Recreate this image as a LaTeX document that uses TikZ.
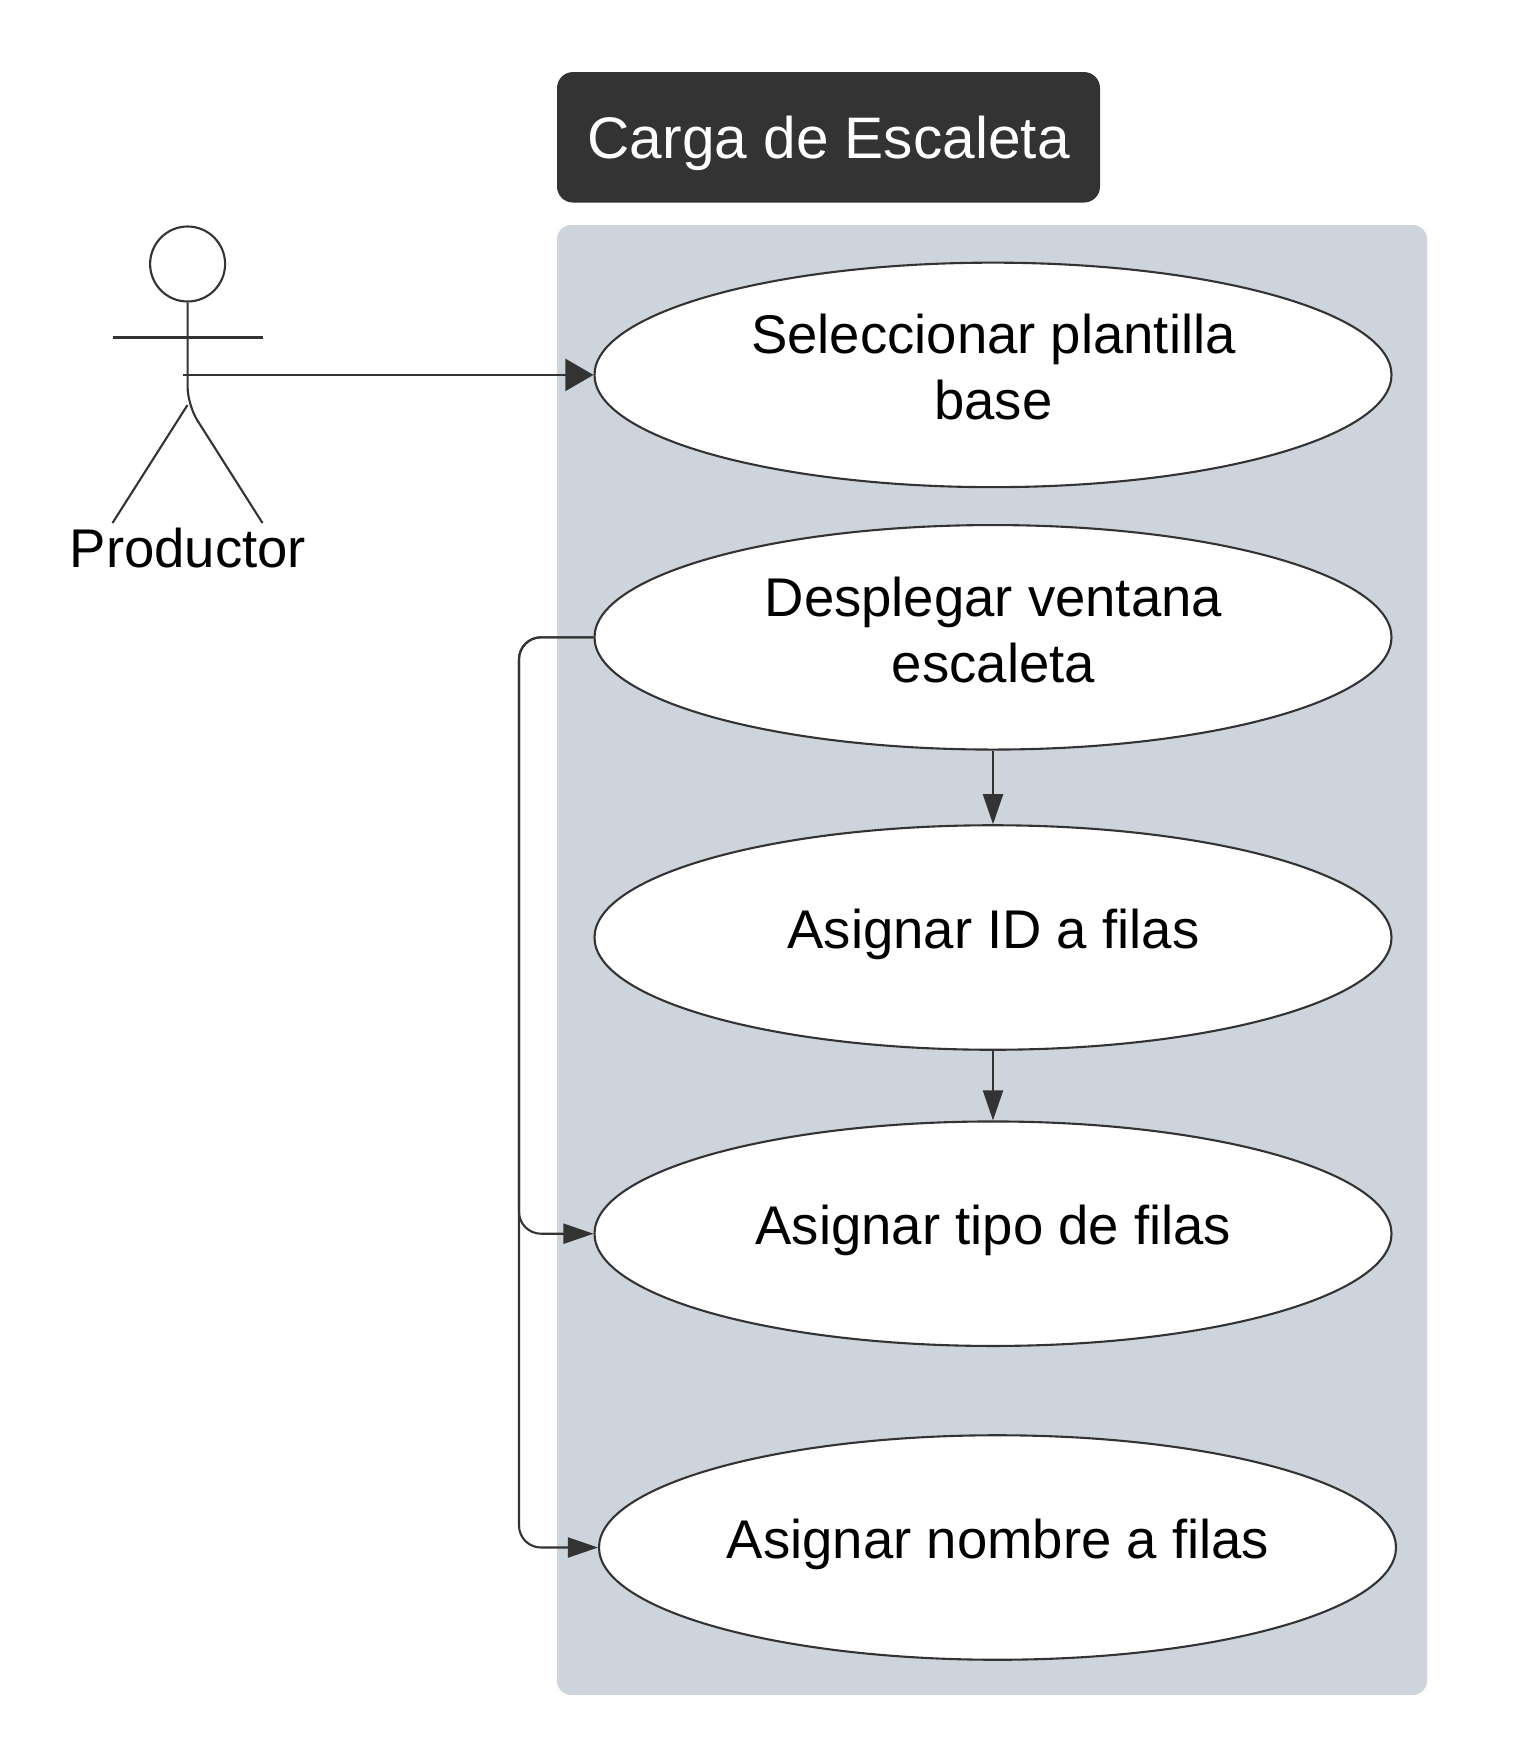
\documentclass[tikz,border=0pt]{standalone}
\usepackage{fontspec}
\setmainfont{Liberation Sans}
\usetikzlibrary{shapes.geometric,arrows.meta}
\definecolor{panelc}{HTML}{CED4DC}
\definecolor{inkc}{HTML}{333333}
\tikzset{
  usecase/.style={ellipse,draw=inkc,fill=white,line width=2.1pt,minimum width=797pt,minimum height=224.5pt,inner sep=0pt},
  body/.style={font=\fontsize{54.5}{66}\selectfont,text=black,align=center,inner sep=0pt},
  conn/.style={draw=inkc,line width=2.1pt},
  bigtip/.style={-{Triangle[length=28pt,width=32pt,fill=inkc]}},
  smalltip/.style={-{Triangle[length=30pt,width=20pt,fill=inkc]}},
  stick/.style={draw=inkc,line width=2.1pt}
}
\begin{document}
\begin{tikzpicture}[x=1pt,y=-1pt]
\useasboundingbox (0,0) rectangle (1530,1751);
\node[fill=panelc,rounded corners=14pt,minimum width=870pt,minimum height=1470pt,inner sep=0pt] (panel) at (992,960) {};
\node[fill=inkc,rounded corners=16pt,minimum width=543pt,minimum height=130.5pt,inner sep=0pt] (title) at (828.5,137.3) {};
\node[text=white,font=\fontsize{58.6}{70}\selectfont,inner sep=0pt] (titletext) at (828.7,143.5) {Carga de Escaleta};
% use cases
\node[usecase] (u1) at (993,374.9) {};
\node[usecase] (u2) at (993,637.3) {};
\node[usecase] (u3) at (993,937.5) {};
\node[usecase] (u4) at (993,1233.7) {};
\node[usecase] (u5) at (997.5,1547.5) {};
\node[body] (t1) at (993.4,367.5) {Seleccionar plantilla\\base};
\node[body] (t2) at (993.4,630.2) {Desplegar ventana\\escaleta};
\node[body] (t3) at (993.4,934.5) {Asignar ID a filas};
\node[body] (t4) at (993.4,1230.5) {Asignar tipo de filas};
\node[body] (t5) at (998,1544.5) {Asignar nombre a filas};
% actor
\node[circle,draw=inkc,fill=white,line width=2.1pt,minimum size=75pt,inner sep=0pt] (head) at (187.6,264) {};
\coordinate (armL) at (112.5,337.5);
\coordinate (armR) at (262.5,337.5);
\coordinate (hip) at (187.5,405);
\coordinate (footL) at (112.5,523);
\coordinate (footR) at (262.5,523);
\coordinate (grab) at (183,374.9);
\draw[stick] (armL) -- (armR);
\draw[stick,rounded corners=18pt] (head.south) -- (187.6,405) -- (footR);
\draw[stick] (hip) -- (footL);
\node[body] (actorlabel) at (187.8,548) {Productor};
% connectors
\draw[conn,bigtip] (grab) -- (u1.west);
\draw[conn,smalltip] (u2.south) -- (u3.north);
\draw[conn,smalltip] (u3.south) -- (u4.north);
\draw[conn,smalltip,rounded corners=22pt] (u2.west) -- (519,637.3) -- (519,1233.7) -- (u4.west);
\draw[conn,smalltip,rounded corners=22pt] (u2.west) -- (519,637.3) -- (519,1547.5) -- (u5.west);
\end{tikzpicture}
\end{document}
